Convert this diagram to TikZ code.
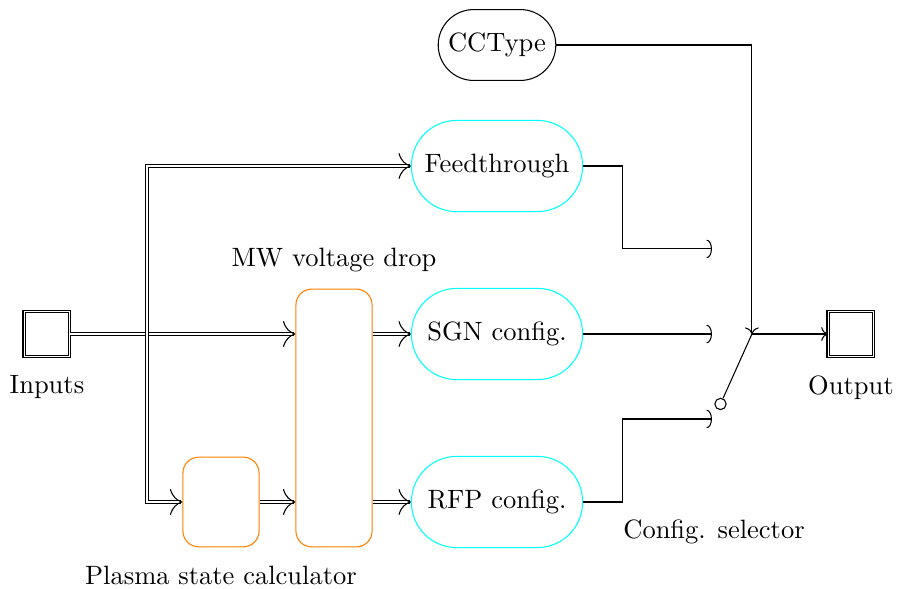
\documentclass[tikz,border=0pt]{standalone}
\usepackage{amsmath}
\usepackage{tikz}
\usetikzlibrary{arrows.meta, calc, positioning}
\definecolor{modelcyan}{RGB}{0,255,255}
\definecolor{calcorange}{RGB}{255,128,0}

\begin{document}
\begin{tikzpicture}[
    port/.style={draw, double, minimum size=0.6cm},
    model/.style={draw=modelcyan, rounded corners=0.6cm, minimum width=2.27cm, minimum height=1.21cm},
    calc/.style={draw=calcorange, rounded corners=6pt, minimum width=1.01cm},
    bus/.style={double, ->},
    wire/.style={-{Arc Barb[length=2pt, width=7pt]}}]
    \useasboundingbox (0,0) rectangle (11.897,-7.812);
    % ports
    \node[port] (in) at (0.623,-4.430) {};
    \node[below=0.12cm of in] {Inputs};
    \node[port] (out) at (11.286,-4.430) {};
    \node[below=0.12cm of out] {Output};
    % blocks
    \node[draw, rounded corners=0.47cm, minimum width=1.56cm, minimum height=0.94cm] (cc) at (6.592,-0.597) {CCType};
    \node[model] (feed) at (6.592,-2.202) {Feedthrough};
    \node[model] (sgn) at (6.592,-4.430) {SGN config.};
    \node[model] (rfp) at (6.592,-6.658) {RFP config.};
    \node[calc, minimum height=3.42cm] (mw) at (4.430,-5.544) {};
    \node[calc, minimum height=1.19cm] (psc) at (2.931,-6.658) {};
    \node at (4.430,-3.448) {MW voltage drop};
    \node at (2.931,-7.626) {Plasma state calculator};
    % switch
    \coordinate (t1) at (9.443,-3.302);
    \coordinate (t2) at (9.443,-4.430);
    \coordinate (t3) at (9.443,-5.557);
    \coordinate (jn) at (9.973,-4.430);
    \node[draw, circle, inner sep=0pt, minimum size=0.15cm] (sw) at (9.556,-5.358) {};
    \node at (9.470,-7.056) {Config. selector};
    % buses
    \coordinate (br) at (1.950,-4.430);
    \draw[bus] (in) -- (mw.west |- in);
    \draw[bus] (br) |- (feed);
    \draw[bus] (br) |- (psc);
    \draw[bus] (psc) -- (mw.west |- psc);
    \draw[bus] (mw.east |- sgn) -- (sgn);
    \draw[bus] (mw.east |- rfp) -- (rfp);
    % wires
    \draw[wire] (feed.east) -- ++(0.52,0) |- (t1);
    \draw[wire] (sgn.east) -- (t2);
    \draw[wire] (rfp.east) -- ++(0.52,0) |- (t3);
    \draw[->] (cc.east) -| (jn);
    \draw (sw) -- (jn);
    \draw[->] (jn) -- (out);
\end{tikzpicture}
\end{document}
